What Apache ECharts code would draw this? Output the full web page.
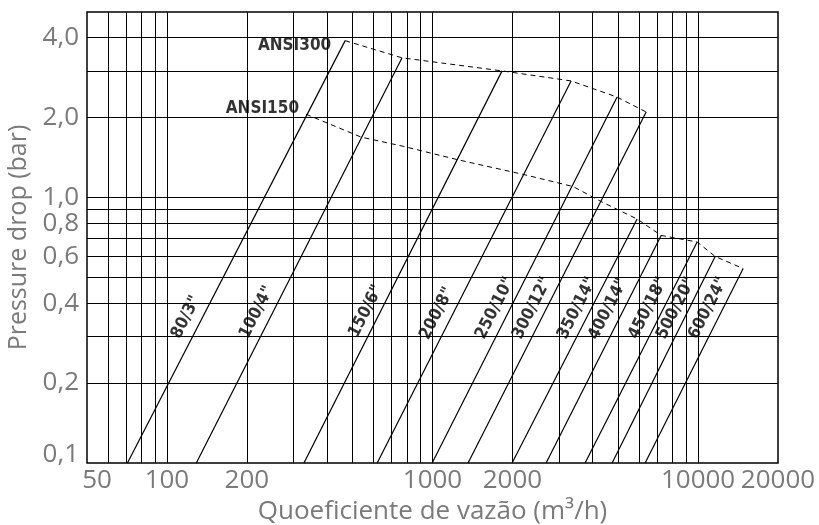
<!DOCTYPE html>
<html>
<head>
<meta charset="utf-8">
<script src="https://cdn.jsdelivr.net/npm/echarts@6/dist/echarts.min.js"></script>
<style>
  html, body { margin: 0; padding: 0; background: #fff; }
  #chart { width: 819px; height: 525px; }
</style>
</head>
<body>
<div id="chart"></div>
<script>
// grid lines and tick labels
const xGrid = [60, 70, 80, 90, 100, 200, 300, 400, 500, 600, 700, 800, 900, 1000,
  2000, 3000, 4000, 5000, 6000, 7000, 8000, 9000, 10000];
const xLabels = [50, 100, 200, 1000, 2000, 10000, 20000];
const yGrid = [0.2, 0.3, 0.4, 0.5, 0.6, 0.7, 0.8, 0.9, 1, 2, 3, 4];
const yLabels = [0.1, 0.2, 0.4, 0.6, 0.8, 1, 2, 4];

// valve sizes: each line runs from 0.1 bar up to its limit
const sizes = ['80/3"', '100/4"', '150/6"', '200/8"', '250/10"', '300/12"',
  '350/14"', '400/14"', '450/18"', '500/20"', '600/24"'];
const bottomDrop = 0.1;
const bottomFlow = [71, 129, 328, 619, 997, 1361, 1994, 2678, 3755, 4746, 6320];
const topFlow = [469, 768, 1828, 3326, 4956, 6376, 5896, 7261, 9924, 11596, 14785];
const topDrop = [3.9, 3.36, 3.0, 2.75, 2.39, 2.1, 0.83, 0.72, 0.68, 0.6, 0.54];

// where the size names sit
const labelFlow = [118, 218, 562, 1040, 1721, 2372, 3504, 4585, 6487, 8270, 10914];
const labelDrop = [0.354, 0.37, 0.373, 0.366, 0.383, 0.383, 0.383, 0.38, 0.383, 0.383, 0.383];

// pressure class limits
const ansi300Flow = [469, 768, 1828, 3326, 4956, 6376];
const ansi300Drop = [3.9, 3.36, 3.0, 2.75, 2.39, 2.1];
const ansi150Flow = [334, 538, 775, 1238, 2213, 3385, 4277, 5896, 7261, 9924, 11596, 14785];
const ansi150Drop = [2.06, 1.69, 1.56, 1.39, 1.22, 1.10, 0.97, 0.83, 0.72, 0.68, 0.6, 0.54];

const gray = '#7a7a7a';
const uiFont = '"Open Sans", Lato, sans-serif';
const narrow = '"Liberation Sans Narrow", "DejaVu Sans Condensed", "Liberation Sans", sans-serif';

const chart = echarts.init(document.getElementById('chart'));

const series = [];
sizes.forEach(function (s, i) {
  series.push({
    name: s,
    type: 'line',
    data: [[bottomFlow[i], bottomDrop], [topFlow[i], topDrop[i]]],
    symbol: 'none',
    silent: true,
    lineStyle: { color: '#000', width: 1.2 }
  });
});

function limitLine(name, flow, drop) {
  return {
    name: name,
    type: 'line',
    data: flow.map((f, i) => [f, drop[i]]),
    symbol: 'none',
    silent: true,
    lineStyle: { color: '#000', width: 1, type: [5, 4] }
  };
}
series.push(limitLine('ANSI300', ansi300Flow, ansi300Drop));
series.push(limitLine('ANSI150', ansi150Flow, ansi150Drop));

// class names at the start of each limit curve
function limitName(name, flow, drop, dist, dy) {
  return {
    name: name + ' label',
    type: 'scatter',
    data: [[flow[0], drop[0]]],
    symbolSize: 0,
    silent: true,
    label: {
      show: true, position: 'left', distance: dist, offset: [0, dy],
      formatter: name,
      fontFamily: narrow, fontWeight: 'bold', fontSize: 17, color: '#000'
    }
  };
}
series.push(limitName('ANSI300', ansi300Flow, ansi300Drop, 14, 5));
series.push(limitName('ANSI150', ansi150Flow, ansi150Drop, 7, -6));

series.push({
  name: 'labels',
  type: 'scatter',
  data: labelFlow.map((f, i) => ({ name: sizes[i], value: [f, labelDrop[i]] })),
  symbolSize: 0,
  silent: true,
  label: {
    show: true, position: 'inside', rotate: 63,
    formatter: p => p.name,
    fontFamily: narrow, fontWeight: 'bold', fontSize: 17, color: '#000'
  }
});

chart.setOption({
  animation: false,
  backgroundColor: '#fff',
  grid: {
    left: 87, right: 41, top: 12, bottom: 62,
    show: true, borderColor: '#000', borderWidth: 1.5,
    outerBoundsMode: 'none'
  },
  xAxis: {
    type: 'log', logBase: 10, min: 50, max: 20000,
    name: 'Quoeficiente de vazão (m³/h)',
    nameLocation: 'middle', nameGap: 34,
    nameTextStyle: { fontFamily: uiFont, fontSize: 26, color: gray },
    axisLine: { show: false },
    axisTick: { show: false, customValues: xGrid },
    axisLabel: {
      customValues: xLabels, margin: 5,
      fontFamily: uiFont, fontSize: 26, color: gray,
      formatter: v => {
        const s = String(Math.round(v));
        return v < 60 ? '{first|' + s + '}' : s;
      },
      rich: { first: { padding: [0, 0, 0, 20], fontFamily: uiFont, fontSize: 26, color: gray } }
    },
    splitLine: { show: true, lineStyle: { color: '#000', width: 1 } }
  },
  yAxis: {
    type: 'log', logBase: 10, min: 0.1, max: 5,
    name: 'Pressure drop (bar)',
    nameLocation: 'middle', nameGap: 52,
    nameTextStyle: { fontFamily: uiFont, fontSize: 25, color: gray },
    axisLine: { show: false },
    axisTick: { show: false, customValues: yGrid },
    axisLabel: {
      customValues: yLabels, margin: 8,
      fontFamily: uiFont, fontSize: 26, color: gray,
      formatter: v => {
        const s = (Math.round(v * 10) / 10).toFixed(1).replace('.', ',');
        return v < 0.15 ? '{first|' + s + '}' : s;
      },
      rich: { first: { padding: [0, 0, 16, 0], fontFamily: uiFont, fontSize: 26, color: gray } }
    },
    splitLine: { show: true, lineStyle: { color: '#000', width: 1 } }
  },
  series: series
});
</script>
</body>
</html>
